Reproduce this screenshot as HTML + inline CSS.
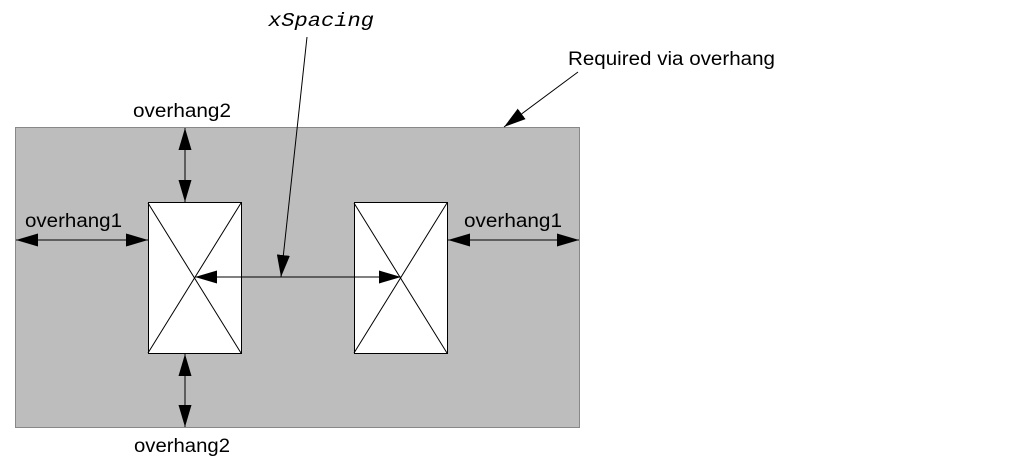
<!DOCTYPE html>
<html><head><style>body{margin:0;background:#fff}svg{display:block}</style></head><body>
<svg width="1013" height="473" xmlns="http://www.w3.org/2000/svg">
<defs>
<marker id="a" viewBox="0 0 22 13" refX="22" refY="6.5" markerWidth="22" markerHeight="13" markerUnits="userSpaceOnUse" orient="auto-start-reverse"><path d="M0,0L22,6.5L0,13z" fill="#000"/></marker>
</defs>
<rect x="15.5" y="127.5" width="564" height="300" fill="#bdbdbd" stroke="#888"/>
<g stroke="#000" stroke-width="1">
<rect x="148.5" y="202.5" width="93" height="151" fill="#fff"/>
<rect x="354.5" y="202.5" width="93" height="151" fill="#fff"/>
<path d="M148,203L241,353M241,203L148,353M354,203L447,353M447,203L354,353" fill="none"/>
<line x1="16" y1="240" x2="148" y2="240" marker-start="url(#a)" marker-end="url(#a)"/>
<line x1="448" y1="240" x2="579" y2="240" marker-start="url(#a)" marker-end="url(#a)"/>
<line x1="185" y1="128" x2="185" y2="202" marker-start="url(#a)" marker-end="url(#a)"/>
<line x1="185" y1="354" x2="185" y2="427" marker-start="url(#a)" marker-end="url(#a)"/>
<line x1="195" y1="277" x2="401" y2="277" marker-start="url(#a)" marker-end="url(#a)"/>
<line x1="307" y1="37" x2="281" y2="277" marker-end="url(#a)"/>
<line x1="578" y1="72" x2="504" y2="127" marker-end="url(#a)"/>
</g>
<g font-family="Liberation Sans, sans-serif" font-size="19" fill="#000">
<text x="133" y="117" textLength="98" lengthAdjust="spacingAndGlyphs">overhang2</text>
<text x="134" y="452" textLength="96" lengthAdjust="spacingAndGlyphs">overhang2</text>
<text x="25" y="227" textLength="97" lengthAdjust="spacingAndGlyphs">overhang1</text>
<text x="464" y="227" textLength="98" lengthAdjust="spacingAndGlyphs">overhang1</text>
<text x="568" y="65" textLength="207" lengthAdjust="spacingAndGlyphs">Required via overhang</text>
</g>
<text x="268" y="26" font-family="Liberation Mono, monospace" font-style="italic" font-size="19" textLength="106" lengthAdjust="spacingAndGlyphs">xSpacing</text>
</svg>
</body></html>
